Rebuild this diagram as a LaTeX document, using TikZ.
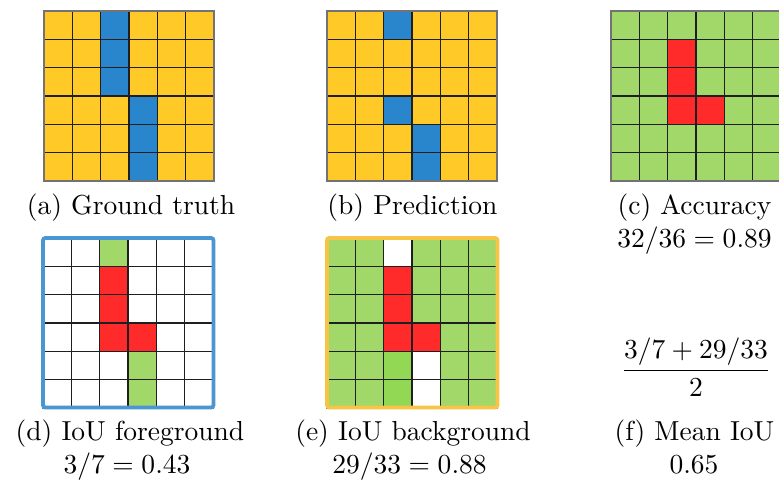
\documentclass[tikz,border=0pt]{standalone}
\usetikzlibrary{calc}
\definecolor{yel}{HTML}{FFC928}
\definecolor{blu}{HTML}{2986CC}
\definecolor{grn}{HTML}{A2D86A}
\definecolor{grnb}{HTML}{92D855}
\definecolor{rd}{HTML}{FF2A2A}
\definecolor{frblue}{HTML}{4A96D2}
\definecolor{fryel}{HTML}{F7C445}
\tikzset{
  cellline/.style={draw=black!88, line width=0.45pt},
  outerline/.style={draw=black!55, line width=0.45pt},
  captext/.style={anchor=base, inner sep=0pt, font=\normalsize},
  gridframe/.style={line width=1.4pt, rounded corners=0.9pt},
}
% #1 = x0, #2 = y0 (px), #3 = base colour, #4 = list of col/row/colour
\newcommand\drawmygrid[4]{%
  \begin{scope}[shift={(#1,#2)}, x=10.305pt, y=-10.305pt]
    \fill[#3] (0,0) rectangle (6,6);
    \foreach \cc/\rr/\col in {#4} {\fill[\col] (\cc,\rr) rectangle ++(1,1);}
    \foreach \k in {1,...,5} {
      \draw[cellline] (\k,0) -- (\k,6);
      \draw[cellline] (0,\k) -- (6,\k);
    }
    \draw[outerline] (0,0) rectangle (6,6);
  \end{scope}}
\begin{document}
\begin{tikzpicture}[x=0.3637pt, y=-0.3637pt]
\useasboundingbox (0,0) rectangle (779,482);
% (a) ground truth
\drawmygrid{44}{11}{yel}{2/0/blu,2/1/blu,2/2/blu,3/3/blu,3/4/blu,3/5/blu}
% (b) prediction
\drawmygrid{327}{11}{yel}{2/0/blu,2/3/blu,3/4/blu,3/5/blu}
% (c) accuracy
\drawmygrid{611}{11}{grn}{2/1/rd,2/2/rd,2/3/rd,3/3/rd}
% (d) IoU foreground
\drawmygrid{43}{238}{white}{2/0/grn,3/4/grn,3/5/grn,2/1/rd,2/2/rd,2/3/rd,3/3/rd}
\draw[gridframe, frblue] (43,238) rectangle (213.5,407.5);
% (e) IoU background
\drawmygrid{327}{238}{grn}{2/0/white,3/4/white,3/5/white,2/4/grnb,2/5/grnb,2/1/rd,2/2/rd,2/3/rd,3/3/rd}
\draw[gridframe, fryel] (327,238) rectangle (497.5,407.5);
% captions
\node[captext] (capa) at (131,214) {(a) Ground truth};
\node[captext] (capb) at (412.5,214) {(b) Prediction};
\node[captext] (capc) at (694.5,214) {(c) Accuracy};
\node[captext] (valc) at (694.5,247) {$32/36 = 0.89$};
\node[captext] (capd) at (130,440) {(d) IoU foreground};
\node[captext] (vald) at (127,473) {$3/7 = 0.43$};
\node[captext] (cape) at (413,440) {(e) IoU background};
\node[captext] (vale) at (409.5,473) {$29/33 = 0.88$};
\node[anchor=center, inner sep=0pt] (fracf) at (696,367) {$\displaystyle\frac{3/7 + 29/33}{2}$};
\node[captext] (capf) at (694.5,440) {(f) Mean IoU};
\node[captext] (valf) at (694,473) {$0.65$};
\end{tikzpicture}
\end{document}
